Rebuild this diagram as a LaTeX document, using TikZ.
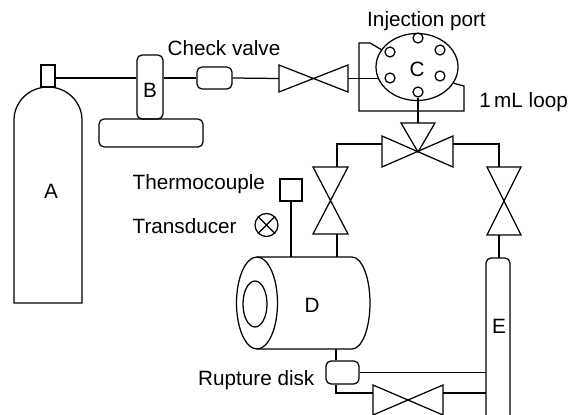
\documentclass[tikz,border=0pt]{standalone}
\usepackage{fontspec}
\setmainfont{Liberation Sans}
\usetikzlibrary{shapes.geometric}
\begin{document}
\begin{tikzpicture}[x=1pt,y=-1pt,line width=1.25pt,
  lbl/.style={font=\fontsize{20.7}{25}\selectfont, inner sep=0pt},
  box/.style={draw, rectangle, rounded corners=5pt, inner sep=0pt},
  port/.style={draw, circle, minimum size=10pt, inner sep=0pt}]
\useasboundingbox (0,0) rectangle (571,415);
\clip (0,0) rectangle (571,415);

% ---------- gas cylinder A ----------
\draw (14,303) -- (14,120) .. controls (14,101.8) and (29.2,87) .. (48,87)
      .. controls (66.8,87) and (82,101.8) .. (82,120) -- (82,303) -- cycle;
\node[draw, rectangle, minimum width=14pt, minimum height=22pt, inner sep=0pt] (neck) at (48,76) {};
\coordinate (neckR) at (55,78);
\node[lbl, anchor=base] (labA) at (51,198) {A};

% ---------- regulator B ----------
\node[box, minimum width=26pt, minimum height=64pt] (B) at (150,87) {};
\node[box, minimum width=104pt, minimum height=28pt] (Bbase) at (151,133) {};
\node[lbl, anchor=base] (labB) at (150,97) {B};

% ---------- check valve ----------
\node[box, minimum width=35pt, minimum height=22pt] (cv) at (214.5,78) {};
\node[lbl, anchor=base] (labcv) at (224,55.5) {Check valve};

% ---------- shut-off valve ----------
\draw (279,65) -- (348,92) -- (348,65) -- (279,92) -- cycle;
\coordinate (v1W) at (279,78.5);
\coordinate (v1E) at (348,78.5);

% ---------- injection valve C ----------
\node[draw, ellipse, minimum width=82pt, minimum height=67pt, inner sep=0pt] (C) at (417,67) {};
\node[port] (pt) at (418,38) {};
\node[port] (pul) at (390,52) {};
\node[port] (pur) at (440,50) {};
\node[port] (pll) at (390,78) {};
\node[port] (plr) at (440,76) {};
\node[port] (pb) at (418,92) {};
\node[lbl, anchor=base] (labC) at (417,76) {C};
\node[lbl, anchor=base] (labinj) at (426.5,27) {Injection port};
% sample loop
\draw (C.154) -- (370,43) -- (359,43) -- (359,111) -- (464,111) -- (464,86) -- (C.-24);
\node[lbl, anchor=base east] (labloop) at (568.5,107) {1\,mL loop};

% ---------- three-way valve ----------
\draw (401,123) -- (435,123) -- (418,152) -- cycle;
\draw (382,136) -- (453,167) -- (453,136) -- (382,167) -- cycle;
\coordinate (twT) at (418,123);
\coordinate (twL) at (382,144);
\coordinate (twR) at (453,144);

% ---------- vertical valves ----------
\draw (313,167) -- (348,167) -- (313,234) -- (348,234) -- cycle;
\coordinate (lvT) at (337,167);
\coordinate (lvB) at (337,234);
\draw (487,167) -- (521,167) -- (487,235) -- (521,235) -- cycle;
\coordinate (rvT) at (499,167);
\coordinate (rvB) at (499,235);

% ---------- vessel D ----------
\draw (257,303) ellipse [x radius=20.5, y radius=46];
\draw (255,304) ellipse [x radius=12, y radius=23];
\draw (257,257) -- (352,257) .. controls (362,257) and (370,277.6) .. (370,303)
      .. controls (370,328.4) and (362,349) .. (352,349) -- (257,349);
\coordinate (Dtop1) at (291,257);
\coordinate (Dtop2) at (337,257);
\coordinate (Dbot) at (336,349);
\node[lbl, anchor=base] (labD) at (312,312) {D};

% ---------- thermocouple and transducer ----------
\node[draw, rectangle, minimum size=22pt, inner sep=0pt] (tc) at (291,190) {};
\node[lbl, anchor=base west] (labtc) at (132,189) {Thermocouple};
\node[draw, circle, minimum size=23pt, inner sep=0pt] (td) at (266.5,225) {};
\draw (td.north east) -- (td.south west) (td.north west) -- (td.south east);
\node[lbl, anchor=base west] (labtd) at (132,233) {Transducer};

% ---------- column E ----------
\draw[rounded corners=5pt] (486,425) -- (486,258) -- (510,258) -- (510,425);
\coordinate (Etop) at (499,258);
\coordinate (Eleft) at (486,300);
\node[lbl, anchor=base] (labE) at (499,333) {E};

% ---------- rupture disk and outlet valve ----------
\node[box, minimum width=33pt, minimum height=23pt] (rd) at (342.5,372.5) {};
\node[lbl, anchor=base east] (labrd) at (315,385) {Rupture disk};
\draw (373,385) -- (443,415) -- (443,385) -- (373,415) -- cycle;
\coordinate (bvL) at (373,393);
\coordinate (bvR) at (443,393);

% ---------- piping ----------
\draw (neckR) -- (neckR -| B.west);
\draw (neckR -| B.east) -- (cv.west);
\draw (cv.east) -- (v1W);
\draw (v1E) -- (v1E -| C.197);
\draw (pb.south) -- (twT);
\draw (twL) -| (lvT);
\draw (twR) -| (rvT);
\draw (lvB) -- (Dtop2);
\draw (tc.south) -- (Dtop1);
\draw (rvB) -- (Etop);
\draw (Dbot) -- (Dbot |- rd.north);
\draw (rd.east) -- (rd.east -| Eleft);
\draw (Dbot |- rd.south) |- (bvL);
\draw (bvR) -- (bvR -| Eleft);
\end{tikzpicture}
\end{document}
